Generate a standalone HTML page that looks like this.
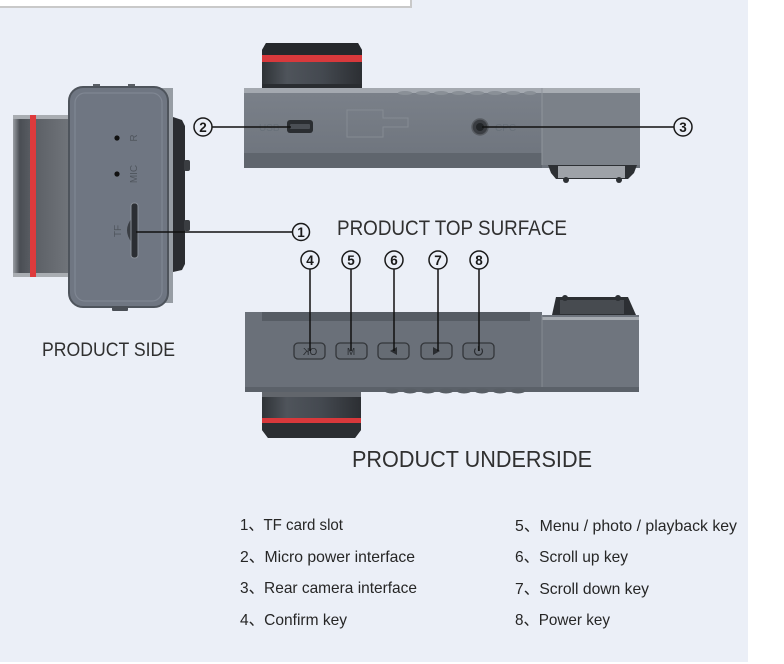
<!DOCTYPE html>
<html><head><meta charset="utf-8"><style>
html,body{margin:0;padding:0;background:#fff;}
svg{display:block;}
.h{font-family:"Liberation Sans","Noto Sans CJK SC",sans-serif;fill:#303030;}
.lg{font-family:"Liberation Sans","Noto Sans CJK SC",sans-serif;font-size:16px;fill:#262626;}
.cn{font-family:"Liberation Sans",sans-serif;font-size:13.5px;font-weight:bold;fill:#1a1a1a;text-anchor:middle;}
.sm{font-family:"Liberation Sans",sans-serif;font-size:10px;fill:#50565e;}
</style></head><body>
<svg width="784" height="664" viewBox="0 0 784 664" xmlns="http://www.w3.org/2000/svg">
<defs>
 <linearGradient id="sideLens" x1="0" x2="1" y1="0" y2="0">
  <stop offset="0" stop-color="#9a9ea4"/><stop offset="0.12" stop-color="#4a4e54"/>
  <stop offset="0.3" stop-color="#575b61"/><stop offset="0.45" stop-color="#5e6268"/>
  <stop offset="1" stop-color="#70747a"/>
 </linearGradient>
 <linearGradient id="lensH" x1="0" x2="1" y1="0" y2="0">
  <stop offset="0" stop-color="#2f3337"/><stop offset="0.25" stop-color="#4f545b"/>
  <stop offset="0.6" stop-color="#444950"/><stop offset="1" stop-color="#2c2f33"/>
 </linearGradient>
 <linearGradient id="bodyV" x1="0" x2="0" y1="0" y2="1">
  <stop offset="0" stop-color="#7b818a"/><stop offset="1" stop-color="#6d737c"/>
 </linearGradient>
</defs>

<rect x="0" y="0" width="748" height="662" fill="#ebeff7"/>
<rect x="-2" y="-2" width="413" height="9" fill="#fff" stroke="#c9c9c9" stroke-width="2"/>

<!-- ===== SIDE VIEW ===== -->
<rect x="13" y="115" width="56" height="162" rx="3" fill="url(#sideLens)"/>
<rect x="13" y="115" width="56" height="4" fill="#a9adb2"/>
<rect x="13" y="273" width="56" height="4" fill="#a9adb2"/>
<rect x="30" y="115" width="6" height="162" fill="#de3a3c"/>
<rect x="160" y="88" width="13" height="215" fill="#979da4"/>
<path d="M173 117 L182 120 L185 126 V264 L182 270 L173 272 Z" fill="#2b2d31"/>
<rect x="184" y="160" width="6" height="11" rx="2" fill="#3a3d41"/>
<rect x="184" y="220" width="6" height="11" rx="2" fill="#3a3d41"/>
<rect x="93" y="84" width="7" height="4" fill="#5a5f66"/>
<rect x="128" y="84" width="7" height="4" fill="#5a5f66"/>
<rect x="69" y="87" width="99" height="220" rx="14" fill="#6f7682" stroke="#4e545c" stroke-width="2"/>
<rect x="75" y="93" width="87" height="208" rx="10" fill="none" stroke="#7f8692" stroke-width="1.2"/>
<rect x="112" y="306" width="16" height="5" rx="1" fill="#4a4f56"/>
<circle cx="117" cy="138" r="2.6" fill="#111"/>
<circle cx="117" cy="174" r="2.6" fill="#111"/>
<text class="sm" transform="translate(137,138) rotate(-90)" text-anchor="middle">R</text>
<text class="sm" transform="translate(137,174) rotate(-90)" text-anchor="middle">MIC</text>
<text class="sm" transform="translate(121,231) rotate(-90)" text-anchor="middle">TF</text>
<path d="M132 218 Q122 230 132 243 Z" fill="#3a3e44"/>
<rect x="131" y="203" width="7" height="55" rx="3" fill="#2b2e33" stroke="#8a9099" stroke-width="1"/>
<line x1="136" y1="232" x2="292" y2="232" stroke="#111" stroke-width="1.5"/>
<circle cx="301" cy="232" r="8.5" fill="none" stroke="#1a1a1a" stroke-width="1.5"/>
<text class="cn" x="301" y="237">1</text>

<text class="h" x="42" y="356" font-size="19.5" textLength="133" lengthAdjust="spacingAndGlyphs">PRODUCT SIDE</text>

<!-- ===== TOP VIEW ===== -->
<path d="M266 43 H358 L362 50 V87 H262 V50 Z" fill="url(#lensH)"/>
<path d="M266 43 H358 L362 50 V55 H262 V50 Z" fill="#25282c"/>
<rect x="262" y="55" width="100" height="7" fill="#d8393c"/>
<rect x="262" y="84" width="100" height="4" fill="#2a2d31"/>
<rect x="244" y="88" width="396" height="80" fill="url(#bodyV)"/>
<rect x="244" y="88" width="396" height="5" fill="#a4a9b0"/>
<g fill="#8a9097">
 <ellipse cx="405" cy="93" rx="7" ry="2"/><ellipse cx="423" cy="93" rx="7" ry="2"/>
 <ellipse cx="441" cy="93" rx="7" ry="2"/><ellipse cx="459" cy="93" rx="7" ry="2"/>
 <ellipse cx="477" cy="93" rx="7" ry="2"/><ellipse cx="495" cy="93" rx="7" ry="2"/>
 <ellipse cx="513" cy="93" rx="7" ry="2"/><ellipse cx="530" cy="93" rx="6" ry="2"/>
</g>
<rect x="244" y="153" width="298" height="15" fill="#5f656d"/>
<rect x="542" y="88" width="98" height="77" fill="#7b8189"/>
<rect x="542" y="88" width="98" height="5" fill="#a8adb3"/>
<line x1="542" y1="88" x2="542" y2="165" stroke="#8f959c" stroke-width="1"/>
<path d="M347 110 H383 V118 H408 V127 H383 V137 H347 Z" fill="none" stroke="#858b93" stroke-width="1"/>
<text class="sm" x="259" y="131" style="fill:#687079">USB</text>
<rect x="287" y="120" width="26" height="13" rx="3" fill="#2a2d31"/>
<rect x="290" y="124" width="20" height="5" rx="1" fill="#4a4e54"/>
<circle cx="480" cy="127" r="8" fill="#3a3d42" stroke="#585c62" stroke-width="1.5"/>
<circle cx="480" cy="127" r="4" fill="#222528"/>
<text class="sm" x="495" y="131" style="fill:#687079">CPC</text>
<path d="M548 165 H637 L634 173 L628 179 H556 L551 173 Z" fill="#2d3034"/>
<rect x="558" y="166" width="67" height="12" fill="#9ea2a8"/>
<circle cx="566" cy="180" r="3" fill="#2d3034"/>
<circle cx="619" cy="180" r="3" fill="#2d3034"/>
<line x1="212" y1="127" x2="291" y2="127" stroke="#111" stroke-width="1.5"/>
<circle cx="203" cy="127" r="9" fill="none" stroke="#1a1a1a" stroke-width="1.5"/>
<text class="cn" x="203" y="132">2</text>
<line x1="482" y1="127" x2="674" y2="127" stroke="#111" stroke-width="1.5"/>
<circle cx="683" cy="127" r="9" fill="none" stroke="#1a1a1a" stroke-width="1.5"/>
<text class="cn" x="683" y="132">3</text>

<text class="h" x="337" y="235" font-size="21" textLength="230" lengthAdjust="spacingAndGlyphs">PRODUCT TOP SURFACE</text>

<!-- ===== UNDERSIDE ===== -->
<path d="M552 315 L556 297 H628 L636 315 Z" fill="#2c2f33"/>
<rect x="560" y="300" width="64" height="14" fill="#474b50"/>
<circle cx="565" cy="298" r="3" fill="#2c2f33"/>
<circle cx="618" cy="298" r="3" fill="#2c2f33"/>
<rect x="245" y="312" width="297" height="80" fill="#6a7079"/>
<rect x="262" y="312" width="268" height="9" fill="#565c64"/>
<rect x="542" y="315" width="97" height="77" fill="#6f757e"/>
<rect x="542" y="317" width="97" height="3" fill="#a6abb1"/>
<line x1="542" y1="315" x2="542" y2="392" stroke="#848a91" stroke-width="1"/>
<rect x="245" y="387" width="394" height="5" fill="#5b6169"/>
<g fill="#585e65">
 <ellipse cx="392" cy="391" rx="7" ry="2.5"/><ellipse cx="410" cy="391" rx="7" ry="2.5"/>
 <ellipse cx="428" cy="391" rx="7" ry="2.5"/><ellipse cx="446" cy="391" rx="7" ry="2.5"/>
 <ellipse cx="464" cy="391" rx="7" ry="2.5"/><ellipse cx="482" cy="391" rx="7" ry="2.5"/>
 <ellipse cx="500" cy="391" rx="7" ry="2.5"/><ellipse cx="518" cy="391" rx="7" ry="2.5"/>
</g>
<!-- bottom lens -->
<path d="M262 392 H361 V430 L355 438 H268 L262 430 Z" fill="url(#lensH)"/>
<rect x="262" y="392" width="99" height="5" fill="#62666c"/>
<rect x="262" y="418" width="99" height="5" fill="#d8383b"/>
<path d="M262 423 H361 V430 L355 438 H268 L262 430 Z" fill="#2b2e32"/>

<!-- buttons -->
<g stroke="#33363a" stroke-width="1.3" fill="#666c74">
 <rect x="294" y="343" width="31" height="16" rx="4"/>
 <rect x="336" y="343" width="31" height="16" rx="4"/>
 <rect x="378" y="343" width="31" height="16" rx="4"/>
 <rect x="421" y="343" width="31" height="16" rx="4"/>
 <rect x="463" y="343" width="31" height="16" rx="4"/>
</g>
<text transform="translate(310,355) scale(-1,1)" text-anchor="middle" style="font-family:'Liberation Sans',sans-serif;font-size:10px;fill:#2a2d31">OK</text>
<text x="351" y="355" text-anchor="middle" style="font-family:'Liberation Sans',sans-serif;font-size:10px;fill:#2a2d31">M</text>
<path d="M390 351 L397 347 V355 Z" fill="#2a2d31"/>
<path d="M440 351 L433 347 V355 Z" fill="#2a2d31"/>
<path d="M475.5 348.5 A4 4 0 1 0 481.5 348.5" fill="none" stroke="#2a2d31" stroke-width="1.2"/>
<line x1="478.5" y1="346" x2="478.5" y2="351" stroke="#2a2d31" stroke-width="1.2"/>

<!-- connectors 4-8 -->
<g stroke="#111" stroke-width="1.5">
 <line x1="310" y1="269" x2="310" y2="351"/>
 <line x1="351" y1="269" x2="351" y2="351"/>
 <line x1="394" y1="269" x2="394" y2="351"/>
 <line x1="438" y1="269" x2="438" y2="351"/>
 <line x1="479" y1="269" x2="479" y2="351"/>
</g>
<g fill="#ebeff7" stroke="#1a1a1a" stroke-width="1.5">
 <circle cx="310" cy="260" r="9"/><circle cx="351" cy="260" r="9"/>
 <circle cx="394" cy="260" r="9"/><circle cx="438" cy="260" r="9"/>
 <circle cx="479" cy="260" r="9"/>
</g>
<text class="cn" x="310" y="265">4</text>
<text class="cn" x="351" y="265">5</text>
<text class="cn" x="394" y="265">6</text>
<text class="cn" x="438" y="265">7</text>
<text class="cn" x="479" y="265">8</text>

<text class="h" x="352" y="467" font-size="23.5" textLength="240" lengthAdjust="spacingAndGlyphs">PRODUCT UNDERSIDE</text>

<!-- legend -->
<text class="lg" x="240" y="530" textLength="103" lengthAdjust="spacingAndGlyphs">1、TF card slot</text>
<text class="lg" x="240" y="562" textLength="175" lengthAdjust="spacingAndGlyphs">2、Micro power interface</text>
<text class="lg" x="240" y="593" textLength="177" lengthAdjust="spacingAndGlyphs">3、Rear camera interface</text>
<text class="lg" x="240" y="625" textLength="107" lengthAdjust="spacingAndGlyphs">4、Confirm key</text>
<text class="lg" x="515" y="531" textLength="222" lengthAdjust="spacingAndGlyphs">5、Menu / photo / playback key</text>
<text class="lg" x="515" y="562" textLength="113" lengthAdjust="spacingAndGlyphs">6、Scroll up key</text>
<text class="lg" x="515" y="594" textLength="134" lengthAdjust="spacingAndGlyphs">7、Scroll down key</text>
<text class="lg" x="515" y="625" textLength="95" lengthAdjust="spacingAndGlyphs">8、Power key</text>
</svg>
</body></html>
